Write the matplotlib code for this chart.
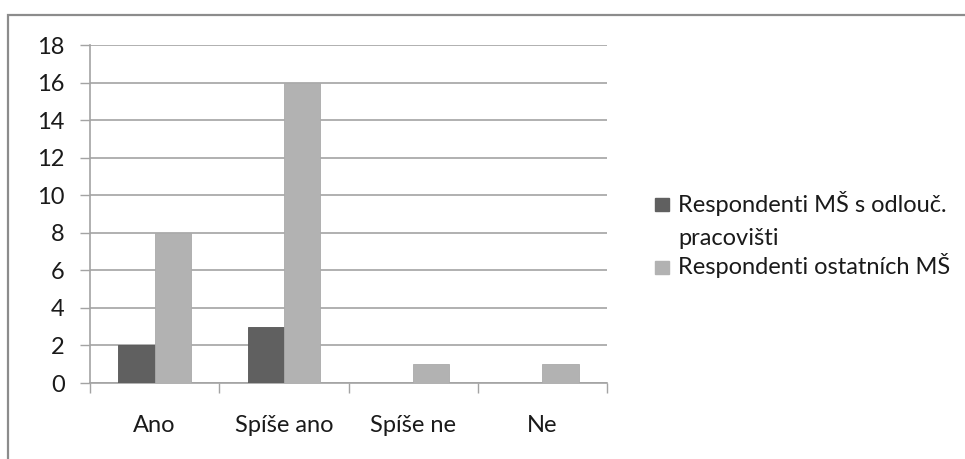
import numpy as np
import matplotlib
matplotlib.use('Agg')
from matplotlib import pyplot as plt
from matplotlib.patches import Rectangle

categories = ['Ano', 'Spíše ano', 'Spíše ne', 'Ne']
series_names = ['Respondenti MŠ s odlouč.\npracovišti', 'Respondenti ostatních MŠ']
odlouc = [2, 3, 0, 0]
ostatni = [8, 16, 1, 1]
yticks = [0, 2, 4, 6, 8, 10, 12, 14, 16, 18]

plt.rcParams['font.family'] = ['Lato', 'DejaVu Sans']

dark = '#606060'
light = '#b2b2b2'
grid_c = '#a3a3a3'
txt_c = '#1a1a1a'
fs = 17

fig = plt.figure(figsize=(9.65, 4.59), dpi=100)
ax = fig.add_axes([90/965, 1 - 383/459, (607 - 90)/965, (383 - 45)/459])

x = np.arange(len(categories))
w = 0.28
ax.bar(x - w/2, odlouc, w, color=dark, edgecolor='#555555', linewidth=0.6, zorder=3)
ax.bar(x + w/2, ostatni, w, color=light, edgecolor='#aaaaaa', linewidth=0.6, zorder=3)

ax.set_xlim(-0.5, len(categories) - 0.5)
ax.set_ylim(0, 18)
ax.set_yticks(yticks)
ax.set_yticklabels([str(v) for v in yticks], fontsize=fs, color=txt_c)
ax.set_xticks(x)
ax.set_xticklabels(categories, fontsize=fs, color=txt_c)
ax.set_xticks(np.arange(-0.5, len(categories)), minor=True)
ax.tick_params(axis='x', which='major', length=0, pad=23)
ax.tick_params(axis='x', which='minor', length=7.2, width=1, color=grid_c, direction='out')
ax.tick_params(axis='y', length=7.2, width=1, color=grid_c, pad=11)

ax.yaxis.grid(True, color=grid_c, linewidth=1.2, zorder=0)
ax.set_axisbelow(True)
for s in ['top', 'right']:
    ax.spines[s].set_visible(False)
for s in ['left', 'bottom']:
    ax.spines[s].set_color(grid_c)
    ax.spines[s].set_linewidth(1.2)

# legend, drawn by hand so the square sits on the first line of a wrapped label
leg_x = 655/965
baselines = [[212, 245], [274]]
sq_centres = [204.5, 267]
for name, col, bl, sc in zip(series_names, [dark, light], baselines, sq_centres):
    fig.patches.append(Rectangle((leg_x, 1 - (sc + 6.5)/459), 14/965, 13/459,
                                 transform=fig.transFigure, color=col))
    for line, yy in zip(name.split('\n'), bl):
        fig.text(678/965, 1 - yy/459, line, fontsize=fs, color=txt_c, va='baseline')

# outer chart frame (clipped by the image edge)
fig.patches.append(Rectangle((8/965, -0.2), 1.2, 1.2 - 15/459, transform=fig.transFigure,
                             fill=False, edgecolor='#8c8c8c', linewidth=1.6))

fig.savefig('out.png', dpi=100)
